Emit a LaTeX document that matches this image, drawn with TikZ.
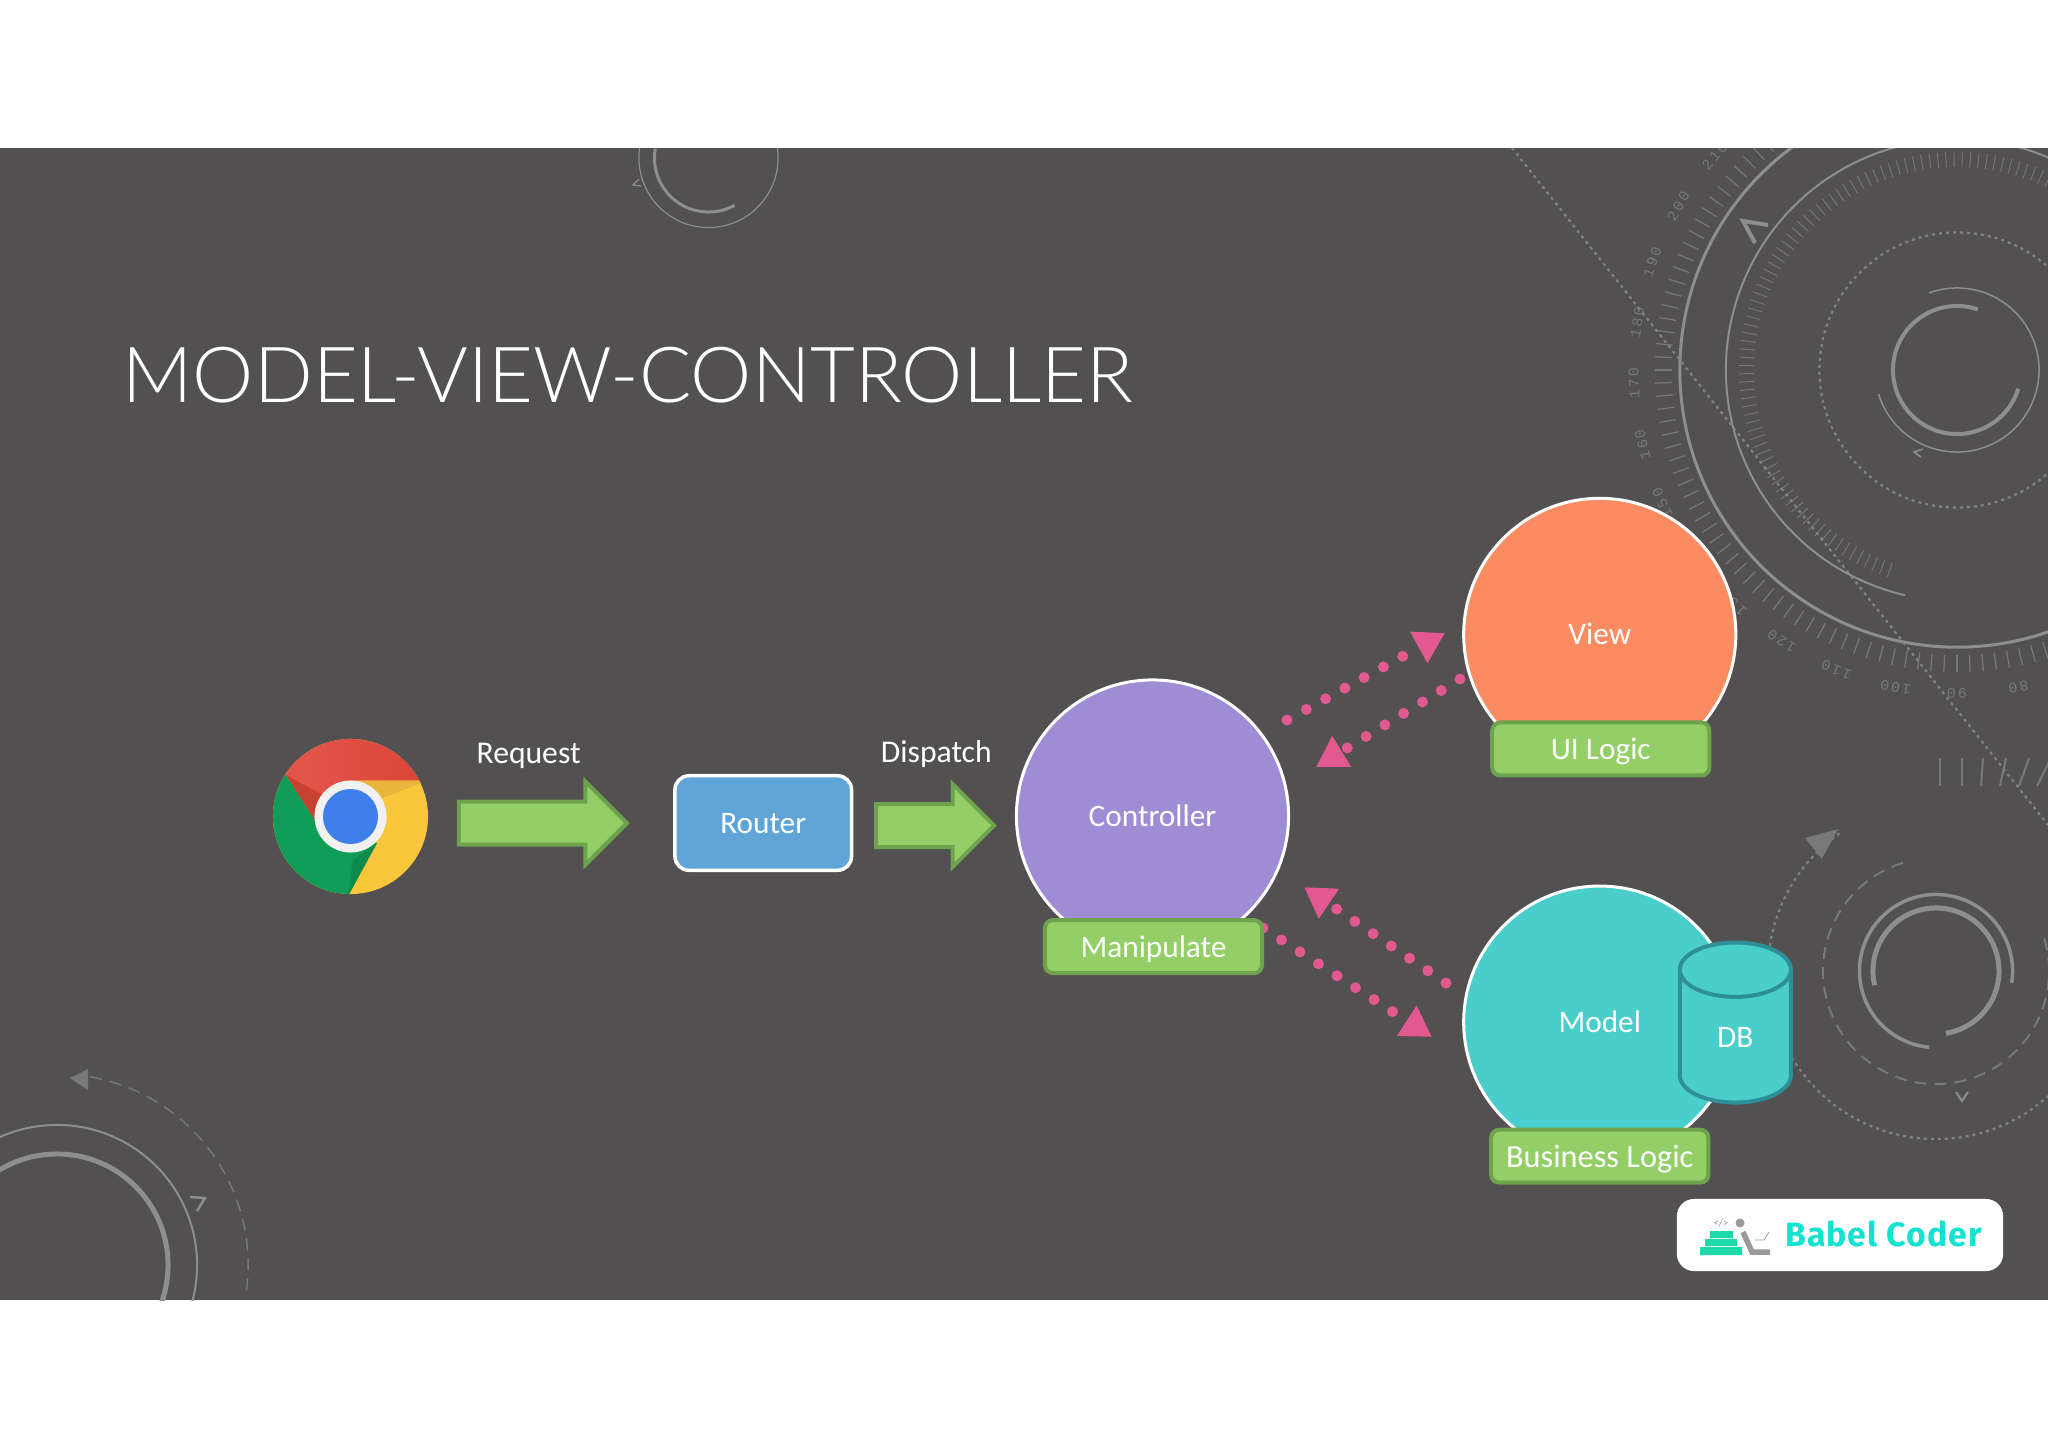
\documentclass[tikz,border=0pt]{standalone}
\usepackage{fontspec}
\setmainfont{Carlito}
\newfontfamily\titlefont{Lato Light}
\newfontfamily\dialfont[LetterSpace=15]{Liberation Mono}
\newfontfamily\logofont[LetterSpace=3]{Fira Sans}
\usetikzlibrary{arrows.meta,calc,positioning,shapes.geometric,shapes.arrows}
\definecolor{slide}{HTML}{525050}
\definecolor{deco}{HTML}{8F8E8E}
\definecolor{decodim}{HTML}{7A7979}
\definecolor{decodot}{HTML}{848383}
\definecolor{leaf}{HTML}{93CF66}
\definecolor{leafline}{HTML}{6EA24D}
\definecolor{pinkdot}{HTML}{E2598F}
\definecolor{router}{HTML}{5FA5D7}
\definecolor{lilac}{HTML}{9E8CD4}
\definecolor{peach}{HTML}{FB8C61}
\definecolor{teal}{HTML}{4ACECB}
\definecolor{tealline}{HTML}{2E8F98}
\definecolor{chromered}{HTML}{DB4437}
\definecolor{chromelight}{HTML}{E4594E}
\definecolor{chromedeep}{HTML}{C8402F}
\definecolor{chromegreen}{HTML}{0F9D58}
\definecolor{chromeshade}{HTML}{0D8A4C}
\definecolor{chromeyellow}{HTML}{F9C63C}
\definecolor{chromeamber}{HTML}{E9B53C}
\definecolor{chromeblue}{HTML}{3F7FEA}
\definecolor{chromewhite}{HTML}{F1F1F1}
\definecolor{logotext}{HTML}{12E2CF}
\definecolor{logostep}{HTML}{1DD9A8}
\definecolor{logogrey}{HTML}{9A9A9A}
\tikzset{
  ball/.style={circle,draw=white,line width=.03cm,minimum size=2.72cm,inner sep=0pt,text=white,text height=.21cm,text depth=0pt,font=\fontsize{8.9}{10}\selectfont},
  tag/.style={rectangle,rounded corners=.08cm,draw=leafline,fill=leaf,line width=.04cm,minimum width=2.17cm,minimum height=.53cm,inner sep=0pt,text=white,text height=.22cm,text depth=0pt,font=\fontsize{8.9}{10}\selectfont},
  blockarrow/.style={single arrow,draw=leafline,fill=leaf,line width=.04cm,inner sep=0pt,single arrow head extend=.2cm,single arrow head indent=0pt},
  caption/.style={text=white,inner sep=0pt,font=\fontsize{9}{10}\selectfont},
  dotarrow/.style={draw=pinkdot,line width=.11cm,line cap=round,dash pattern=on 0pt off .22cm,-{Triangle[length=.3cm,width=.34cm,fill=pinkdot]}},
  thinring/.style={draw=deco,line width=.02cm},
  thickring/.style={draw=deco,line width=.05cm},
  tick/.style={draw=decodim,line width=.012cm},
  dotring/.style={draw=decodot,line width=.022cm,dash pattern=on .03cm off .04cm},
  dashring/.style={draw=decodim,line width=.02cm,dash pattern=on .12cm off .08cm},
  chevron/.style={draw=deco,line width=.03cm},
  dialnum/.style={text=decodim,inner sep=0pt,font=\dialfont\fontsize{4.2}{5}\selectfont},
}
\begin{document}
\begin{tikzpicture}[x=.01cm,y=-.01cm,on grid]
  \useasboundingbox (0,0) rectangle (2048,1448);
  \fill[slide] (0,148) rectangle (2048,1300);

  \coordinate (dial) at (1957,370);
  \coordinate (gear) at (1936,971);
  \coordinate (cogleft) at (57,1265);
  \coordinate (cogtop) at (708.5,158);
  \begin{scope}
    \clip (0,148) rectangle (2048,1300);
    \draw[thinring,line width=.03cm] (dial) circle[radius=2.77cm];
    \draw[thinring] (dial) ++(60:2.31cm) arc[start angle=60,end angle=257,radius=2.31cm];
    \foreach \a in {125,127.5,...,310}
      \draw[tick] (dial)+(\a:2.85cm) -- +(\a:3.02cm);
    \foreach \a in {60,62.2,...,252}
      \draw[tick,line width=.009cm] (dial)+(\a:2.03cm) -- +(\a:2.18cm);
    \foreach \v [evaluate=\v as \a using {270-1.095*(\v-90)}] in {80,90,...,220}
      \node[dialnum,rotate=\a-90] (dial\v) at ($(dial)+(\a:3.23cm)$) {\v};
    \draw[dotring] (dial) circle[radius=1.375cm];
    \draw[thickring,line width=.04cm] (dial) ++(71:.64cm) arc[start angle=71,end angle=343,radius=.64cm];
    \draw[thinring,line width=.015cm] (dial) ++(110:.82cm) arc[start angle=110,end angle=-163,radius=.82cm];
    \draw[chevron,line width=.015cm] (1923,449) -- (1914,452) -- (1921,457);
    \draw[chevron,line width=.04cm] (1768,225) -- (1743,221) -- (1755,243);
    \draw[dotring] (1512,148) -- (2048,825);
    \foreach \x/\t in {1940/0,1961.5/0,1982/1,2003/3,2024/5,2044/7}
      \draw[tick,line width=.02cm] (\x+\t,758) -- (\x-\t,786);

    \draw[dotring] (gear) ++(125:1.68cm) arc[start angle=125,end angle=380,radius=1.68cm];
    \fill[decodim] (1838,829) -- (1805,838) -- (1822,859) -- cycle;
    \draw[dashring] (gear) ++(107:1.13cm) arc[start angle=107,end angle=377,radius=1.13cm];
    \draw[thickring,line width=.035cm] (gear) ++(-9:.765cm) arc[start angle=-9,end angle=265,radius=.765cm];
    \draw[thickring] (gear) ++(193:.63cm) arc[start angle=193,end angle=-81,radius=.63cm];
    \draw[chevron,line width=.02cm] (1956,1092) -- (1962,1101) -- (1968,1092);

    \draw[thinring] (cogleft) circle[radius=1.4cm];
    \draw[thickring] (cogleft) circle[radius=1.11cm];
    \draw[dashring,line width=.014cm] (cogleft) ++(80:1.91cm) arc[start angle=80,end angle=-10,radius=1.91cm];
    \fill[decodim] (70,1078) -- (88,1069) -- (88,1090) -- cycle;
    \draw[chevron,line width=.025cm] (190,1197) -- (205,1198) -- (197,1211);

    \draw[thinring,line width=.012cm] (cogtop) circle[radius=.695cm];
    \draw[thickring,line width=.03cm] (cogtop) ++(170:.54cm) arc[start angle=170,end angle=299,radius=.54cm];
    \draw[chevron,line width=.012cm] (639,179) -- (633,185) -- (641,186);
  \end{scope}

  \node[text=white,inner sep=0pt,anchor=west,font=\titlefont\fontsize{22}{26}\selectfont] (title) at (122,375) {MODEL-VIEW-CONTROLLER};

  \node[circle,fill=chromeyellow,minimum size=1.55cm,inner sep=0pt] (chrome) at (350.5,816.5) {};
  \begin{scope}
    \clip (chrome.center) circle[radius=.775cm];
    \fill[chromegreen] (286,775) -- (315,820) -- (377,843) -- (348,896) -- (260,900) -- (260,775) -- cycle;
    \fill[chromeshade] (348,896) -- (377,843) -- (353,860) -- cycle;
    \path[left color=chromelight,right color=chromered] (286,775) -- (315,820) -- (350,816) -- (350,780.5) -- (432,780.5) -- (432,735) -- (260,735) -- (260,775) -- cycle;
    \fill[chromedeep] (286,775) -- (315,820) -- (323,795) -- cycle;
    \fill[chromeamber] (360,780.5) -- (428,780.5) -- (377,800) -- cycle;
  \end{scope}
  \node[circle,fill=chromewhite,minimum size=.72cm,inner sep=0pt] (chromering) at (chrome.center) {};
  \node[circle,fill=chromeblue,minimum size=.55cm,inner sep=0pt] (chromecore) at (chrome.center) {};

  \node[blockarrow,minimum height=1.68cm] (reqarrow) [right=1.815cm of chrome,yshift=-.065cm] {\rule{0pt}{.39cm}};
  \node[caption] (reqlabel) [above=.67cm of reqarrow,xshift=-.035cm] {Request};
  \node[rectangle,rounded corners=.14cm,draw=white,fill=router,line width=.035cm,minimum width=1.765cm,minimum height=.945cm,inner sep=0pt,text=white,text height=.21cm,text depth=0pt,font=\fontsize{8.9}{10}\selectfont] (routerbox) [right=2.31cm of reqarrow] {Router};
  \node[blockarrow,minimum height=1.18cm] (dsparrow) [right=1.61cm of routerbox,yshift=-.025cm] {\rule{0pt}{.39cm}};
  \node[caption] (dsplabel) [above=.71cm of dsparrow,xshift=.12cm] {Dispatch};

  \node[ball,fill=lilac] (controller) at (1152.5,816) {Controller};
  \node[ball,fill=peach] (view) [above right=1.815cm and 4.47cm of controller] {View};
  \node[ball,fill=teal] (model) [below right=2.06cm and 4.47cm of controller] {Model};

  \coordinate (ctrlout) at (1287,720);
  \coordinate (viewin) at (1445,633);
  \coordinate (viewout) at (1460,679);
  \coordinate (ctrlin) at (1316,767);
  \coordinate (modelout) at (1446,983);
  \coordinate (ctrlback) at (1304,887);
  \coordinate (tagout) at (1263,928);
  \coordinate (modelin) at (1432,1037);
  \draw[dotarrow] (ctrlout) -- (viewin);
  \draw[dotarrow] (viewout) -- (ctrlin);
  \draw[dotarrow] (modelout) -- (ctrlback);
  \draw[dotarrow] (tagout) -- (modelin);

  \node[tag] (manipulate) [below=1.305cm of controller,xshift=.01cm] {Manipulate};
  \node[tag] (uilogic) [below=1.145cm of view,xshift=.01cm] {UI Logic};
  \node[tag,font=\fontsize{9.2}{11}\selectfont] (bizlogic) [below=1.34cm of model] {Business Logic};
  \node[cylinder,shape border rotate=90,aspect=1.5,draw=tealline,fill=teal,line width=.04cm,minimum height=1.6cm,minimum width=1.11cm,inner sep=0pt,text=white,text height=.2cm,text depth=0pt,font=\fontsize{8.9}{10}\selectfont] (db) [right=1.355cm of model,yshift=-.15cm] {DB};

  \node[rectangle,rounded corners=.17cm,fill=white,minimum width=3.26cm,minimum height=.72cm,inner sep=0pt] (logo) at (1840,1235) {};
  \node[text=logotext,inner sep=0pt,font=\logofont\bfseries\fontsize{9.6}{11}\selectfont] (logoname) at (1883.5,1234) {Babel Coder};
  \fill[logostep] (1710,1231) rectangle (1733,1238) (1705,1239) rectangle (1737,1246) (1700,1247) rectangle (1742,1255);
  \node[text=logogrey,inner sep=0pt,font=\fontsize{3}{3}\selectfont] (logotag) at (1721,1223) {</>};
  \fill[logogrey] (1740,1223) circle[radius=.045cm];
  \draw[logogrey,line width=.055cm] (1743,1232) -- (1752,1252) -- (1770,1252);
  \draw[logogrey,line width=.008cm] (1755,1240) -- (1764,1240) -- (1769,1232);
\end{tikzpicture}
\end{document}
